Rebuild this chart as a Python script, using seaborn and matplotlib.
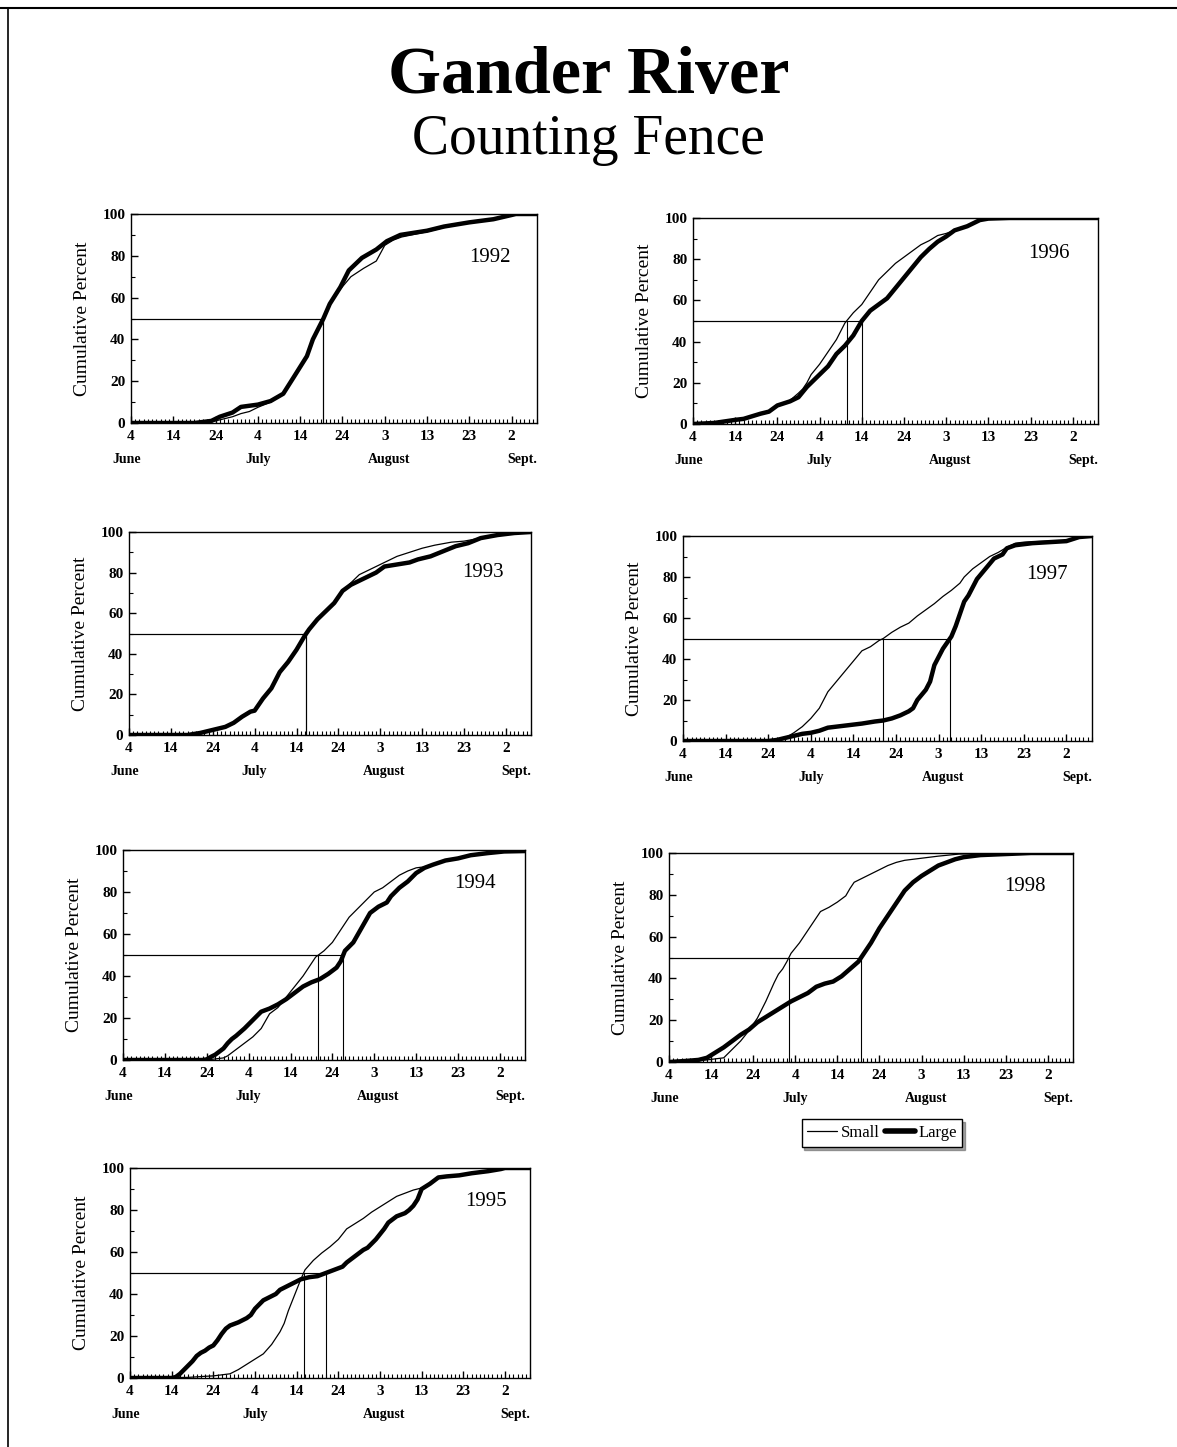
import numpy as np
import pandas as pd
import matplotlib
matplotlib.use("Agg")
import matplotlib.pyplot as plt
from matplotlib.lines import Line2D
import seaborn as sns

# days counted from June 4 (day 0), cumulative percent
day_ticks = [0, 10, 20, 30, 40, 50, 60, 70, 80, 90]
day_tick_labels = ['4', '14', '24', '4', '14', '24', '3', '13', '23', '2']
month_names = ['June', 'July', 'August', 'Sept.']
month_pos = [-1, 30, 61, 92.5]

large_1992_day = [0, 15, 19, 21, 24, 26, 30, 33, 36, 38.5, 41.6, 43, 45.5, 47, 49.5, 51.5, 54.6, 58, 60.5, 63.7, 70, 74, 80, 85.7, 91, 96]
large_1992_pct = [0, 0, 1, 3, 5, 7.7, 8.8, 10.5, 14, 22, 32, 40, 50, 57, 65, 73, 79, 83, 87, 90, 92, 94, 96, 97.5, 100, 100]
small_1992_day = [0, 18, 21, 24, 26, 28, 30, 33, 36, 38.5, 41.6, 43, 45.5, 47, 49.5, 52, 55, 58, 60, 62, 64, 70, 74, 80, 85.7, 91, 96]
small_1992_pct = [0, 0, 1.5, 3, 4.5, 5.5, 7.5, 10, 14, 22, 32, 40, 50, 57, 64, 70, 74, 77.5, 85, 87.5, 89, 91.5, 93.5, 96, 97.5, 100, 100]

large_1993_day = [0, 14, 17, 20, 23, 25, 27, 29, 30, 32, 34, 36, 38, 40, 42, 43, 45, 47, 49, 51, 53, 55, 57, 59, 61, 64, 67, 69, 72, 75, 78, 81, 84, 88, 92, 96]
large_1993_pct = [0, 0, 1, 2.5, 4, 6, 9, 11.5, 12, 18, 23, 31, 36, 42, 49, 52, 57, 61, 65, 71, 74, 76, 78, 80, 83, 84, 85, 86.5, 88, 90.5, 93, 94.5, 97, 98.5, 99.5, 100]
small_1993_day = [0, 14, 17, 20, 23, 25, 27, 29, 30, 32, 34, 36, 38, 40, 42, 43, 45, 47, 49, 51, 53, 55, 58, 61, 64, 67, 70, 73, 77, 80, 84, 88, 92, 96]
small_1993_pct = [0, 0, 1, 2.5, 4, 6, 9, 11.5, 12, 18, 23, 31, 36, 42, 49, 52, 57, 61, 65, 71, 75, 79, 82, 85, 88, 90, 92, 93.5, 95, 95.5, 97, 98.5, 99.5, 100]

large_1994_day = [0, 19, 20, 21, 22, 23, 24, 25, 26, 27, 29, 31, 33, 35, 37, 39, 41, 43, 45, 47, 49, 51, 52, 53, 55, 57, 59, 61, 63, 64, 66, 68, 70, 72, 74, 77, 80, 83, 87, 91, 96]
large_1994_pct = [0, 0, 0.3, 1.5, 2.5, 4, 5.5, 8, 10, 11.5, 15, 19, 23, 24.5, 26.5, 29, 32, 35, 37, 38.5, 41, 44, 47, 52, 56, 63, 70, 73, 75, 78, 82, 85, 89, 91.5, 93, 95, 96, 97.5, 98.5, 99.3, 99.5]
small_1994_day = [0, 20, 22, 24, 25, 27, 29, 31, 33, 35, 37, 39, 41, 43, 45, 46, 48, 50, 52, 54, 56, 58, 60, 62, 64, 66, 68, 70, 72, 74, 77, 80, 83, 87, 91, 96]
small_1994_pct = [0, 0, 0.5, 1, 2, 5, 8, 11, 15, 22, 25, 30, 35, 40, 46, 49, 52, 56, 62, 68, 72, 76, 80, 82, 85, 88, 90, 91.5, 92, 93, 95, 96, 97.5, 98.5, 99.3, 99.5]

large_1995_day = [0, 10, 11, 12, 13, 14, 15, 16, 17, 18, 19, 20, 21, 22, 23, 24, 26, 28, 29, 30, 32, 34, 35, 36, 38, 40, 41, 43, 45, 47, 49, 51, 52, 54, 56, 57, 59, 61, 62, 64, 66, 67, 68, 69, 70, 72, 74, 76, 79, 82, 86, 89, 90, 96]
large_1995_pct = [0, 0, 0.5, 2, 4, 6, 8, 10.5, 12, 13, 14.5, 15.5, 18, 21, 23.5, 25, 26.5, 28.5, 30, 33, 37, 39, 40, 42, 44, 46, 47, 48, 48.5, 50, 51.5, 53, 55, 58, 61, 62, 66, 71, 74, 77, 78.5, 80, 82, 85, 90, 92.5, 95.5, 96, 96.5, 97.5, 98.5, 99.5, 100, 100]
small_1995_day = [0, 14, 18, 20, 22, 24, 26, 28, 30, 32, 34, 36, 37, 38, 39, 40, 41, 42, 44, 46, 48, 50, 52, 54, 56, 58, 60, 62, 64, 66, 68, 70, 72, 74, 76, 79, 82, 86, 89, 90, 96]
small_1995_pct = [0, 0.3, 0.8, 1, 1.5, 2, 4, 6.5, 9, 11.5, 16, 22, 26, 32, 37, 42, 47, 51.5, 56, 59.5, 62.5, 66, 71, 73.5, 76, 79, 81.5, 84, 86.5, 88, 89.5, 90.5, 92.5, 95.5, 96, 96.5, 97.5, 98.5, 99.5, 100, 100]

large_1996_day = [0, 5, 10, 12, 16, 18, 20, 23, 25, 27, 30, 32, 34, 36, 38, 40, 42, 44, 46, 48, 50, 52, 54, 56, 58, 60, 62, 65, 68, 70, 75, 96]
large_1996_pct = [0, 0.5, 2, 2.5, 5, 6, 9, 11, 13, 18, 24, 28, 34, 38, 43, 50, 55, 58, 61, 66, 71, 76, 81, 85, 88.5, 91, 94, 96, 99, 99.7, 100, 100]
small_1996_day = [0, 5, 10, 12, 16, 18, 20, 23, 25, 26, 27, 28, 30, 32, 34, 36, 38, 40, 42, 44, 46, 48, 50, 52, 54, 56, 58, 60, 62, 65, 68, 70, 75, 96]
small_1996_pct = [0, 0.5, 2, 2.5, 5, 6, 9, 11.5, 15, 17, 20, 24, 29, 35, 41, 49, 54, 58, 64, 70, 74, 78, 81, 84, 87, 89, 91.5, 92.5, 94, 96, 99, 99.7, 100, 100]

large_1997_day = [0, 20, 22, 24, 26, 28, 30, 32, 34, 36, 38, 40, 42, 45, 47, 49, 51, 53, 54, 55, 56, 57, 58, 59, 60, 61, 62, 63, 64, 65, 66, 67, 68, 69, 71, 73, 75, 76, 78, 82, 86, 90, 93, 96]
large_1997_pct = [0, 0, 0.5, 1.5, 2.5, 3.5, 4, 5, 6.5, 7, 7.5, 8, 8.5, 9.5, 10, 11, 12.5, 14.5, 16, 20, 22.5, 25, 29, 37, 41, 45, 48, 51, 56, 62, 68, 71, 75, 79, 84, 89, 91, 94, 95.5, 96.5, 97, 97.5, 99.5, 100]
small_1997_day = [0, 20, 22, 24, 26, 28, 30, 31, 32, 34, 36, 38, 40, 42, 44, 46, 47, 49, 51, 53, 55, 57, 59, 61, 63, 65, 66, 68, 70, 72, 74, 76, 78, 80, 82, 86, 90, 93, 96]
small_1997_pct = [0, 0, 0.5, 1.5, 4, 7, 11, 13.5, 16, 24, 29, 34, 39, 44, 46, 49, 50, 53, 55.5, 57.5, 61, 64, 67, 70.5, 73.5, 77, 80, 84, 87, 90, 92, 94.5, 96.5, 97, 97.2, 97.5, 97.8, 99.5, 100]

large_1998_day = [0, 4, 7, 9, 11, 13, 15, 17, 19, 21, 23, 25, 27, 29, 31, 33, 35, 37, 39, 41, 43, 45, 46, 48, 50, 52, 54, 56, 58, 60, 62, 64, 66, 68, 70, 74, 80, 86, 96]
large_1998_pct = [0, 0.5, 1, 2, 4.5, 7, 10, 13, 15.5, 19, 21.5, 24, 26.5, 29, 31, 33, 36, 37.5, 38.5, 41, 44.5, 48, 51, 57, 64, 70, 76, 82, 86, 89, 91.5, 94, 95.5, 97, 98, 99, 99.5, 100, 100]
small_1998_day = [0, 4, 7, 9, 11, 13, 15, 17, 19, 21, 23, 25, 26, 27, 28, 29, 31, 33, 35, 36, 38, 40, 42, 43, 44, 46, 48, 50, 52, 54, 56, 60, 64, 69, 80, 86, 96]
small_1998_pct = [0, 0.5, 1, 1, 1.5, 2, 6, 10, 15, 21, 29, 38, 42, 44.5, 48, 52, 57, 63, 69, 72, 74, 76.5, 79.5, 83, 86, 88, 90, 92, 94, 95.5, 96.5, 97.5, 98.5, 99.5, 99.7, 100, 100]

years = [1992, 1996, 1993, 1997, 1994, 1998, 1995]
small_days = [small_1992_day, small_1996_day, small_1993_day, small_1997_day, small_1994_day, small_1998_day, small_1995_day]
small_pcts = [small_1992_pct, small_1996_pct, small_1993_pct, small_1997_pct, small_1994_pct, small_1998_pct, small_1995_pct]
large_days = [large_1992_day, large_1996_day, large_1993_day, large_1997_day, large_1994_day, large_1998_day, large_1995_day]
large_pcts = [large_1992_pct, large_1996_pct, large_1993_pct, large_1997_pct, large_1994_pct, large_1998_pct, large_1995_pct]

# panel boxes in pixels: left, top, right, bottom
boxes = [(131, 214, 537, 423), (693, 218, 1098, 424),
         (129, 532, 531, 735), (683, 536, 1092, 741),
         (123, 850, 525, 1060), (669, 853, 1073, 1062),
         (130, 1168, 530, 1378)]
# where the year sits inside each panel (axes fraction)
year_pos = [(0.885, 0.79), (0.88, 0.83), (0.88, 0.80), (0.89, 0.81),
            (0.875, 0.84), (0.88, 0.84), (0.89, 0.84)]

sns.set_style("ticks")
plt.rcParams['font.family'] = ['Liberation Serif', 'DejaVu Serif']
for key in ['text.color', 'axes.labelcolor', 'xtick.color', 'ytick.color', 'axes.edgecolor']:
    plt.rcParams[key] = 'black'

W, H = 1177, 1447
fig = plt.figure(figsize=(W / 100, H / 100), dpi=100)

# page frame (top and left edges of the scanned sheet)
fig.add_artist(Line2D([0, 1], [1 - 8 / H, 1 - 8 / H], color='black', lw=1.5))
fig.add_artist(Line2D([8 / W, 8 / W], [0, 1 - 8 / H], color='black', lw=1.2))

fig.text(0.5, 1 - 76 / H, 'Gander River', ha='center', va='center', fontsize=49, fontweight='bold')
fig.text(0.5, 1 - 140 / H, 'Counting Fence', ha='center', va='center', fontsize=40)


def median_day(day, pct):
    day = np.asarray(day, float)
    pct = np.asarray(pct, float)
    i = np.argmax(pct >= 50)
    return day[i - 1] + (50 - pct[i - 1]) * (day[i] - day[i - 1]) / (pct[i] - pct[i - 1])


for k, yr in enumerate(years):
    l, t, r, b = boxes[k]
    ax = fig.add_axes([l / W, 1 - b / H, (r - l) / W, (b - t) / H])

    df_s = pd.DataFrame({'day': small_days[k], 'pct': small_pcts[k]})
    df_l = pd.DataFrame({'day': large_days[k], 'pct': large_pcts[k]})
    sns.lineplot(data=df_s, x='day', y='pct', ax=ax, color='black', lw=0.9)
    sns.lineplot(data=df_l, x='day', y='pct', ax=ax, color='black', lw=3.2)

    for d, p in [(small_days[k], small_pcts[k]), (large_days[k], large_pcts[k])]:
        m = median_day(d, p)
        ax.plot([0, m], [50, 50], color='black', lw=0.8)
        ax.plot([m, m], [0, 50], color='black', lw=0.8)

    ax.set_xlim(0, 96)
    ax.set_ylim(0, 100)
    ax.set_xticks(day_ticks)
    ax.set_xticklabels(day_tick_labels)
    ax.set_xticks(np.arange(0, 97, 1), minor=True)
    ax.set_yticks(np.arange(0, 101, 20))
    ax.set_yticks(np.arange(10, 100, 20), minor=True)
    ax.tick_params(axis='both', which='major', direction='in', length=5, width=1, labelsize=11)
    ax.tick_params(axis='x', which='major', pad=5)
    ax.tick_params(axis='y', which='major', pad=4)
    ax.tick_params(axis='both', which='minor', direction='in', length=3, width=0.8)
    for lab in ax.get_xticklabels() + ax.get_yticklabels():
        lab.set_fontweight('bold')
    for sp in ax.spines.values():
        sp.set_visible(True)
        sp.set_linewidth(1.0)
        sp.set_color('black')
    ax.set_xlabel('')
    ax.set_ylabel('Cumulative Percent', fontsize=14, labelpad=8)

    for name, pos in zip(month_names, month_pos):
        ax.annotate(name, xy=(pos, 0), xycoords=('data', 'axes fraction'),
                    xytext=(0, -26), textcoords='offset points',
                    ha='center', va='center', fontsize=10, fontweight='bold')

    yx, yy = year_pos[k]
    ax.text(yx, yy, str(yr), transform=ax.transAxes, ha='center', va='center', fontsize=15)

# shared legend under the 1998 panel
handles = [Line2D([], [], color='black', lw=0.9), Line2D([], [], color='black', lw=4)]
leg = fig.legend(handles, ['Small', 'Large'], loc='center', bbox_to_anchor=(882 / W, 1 - 1133 / H),
                 ncol=2, frameon=True, fancybox=False, shadow=True, edgecolor='black',
                 fontsize=12, handlelength=1.8, handletextpad=0.2, columnspacing=0.3,
                 borderpad=0.35, borderaxespad=0)
leg.get_frame().set_linewidth(1.0)

fig.savefig('out.png', dpi=100, facecolor='white')
